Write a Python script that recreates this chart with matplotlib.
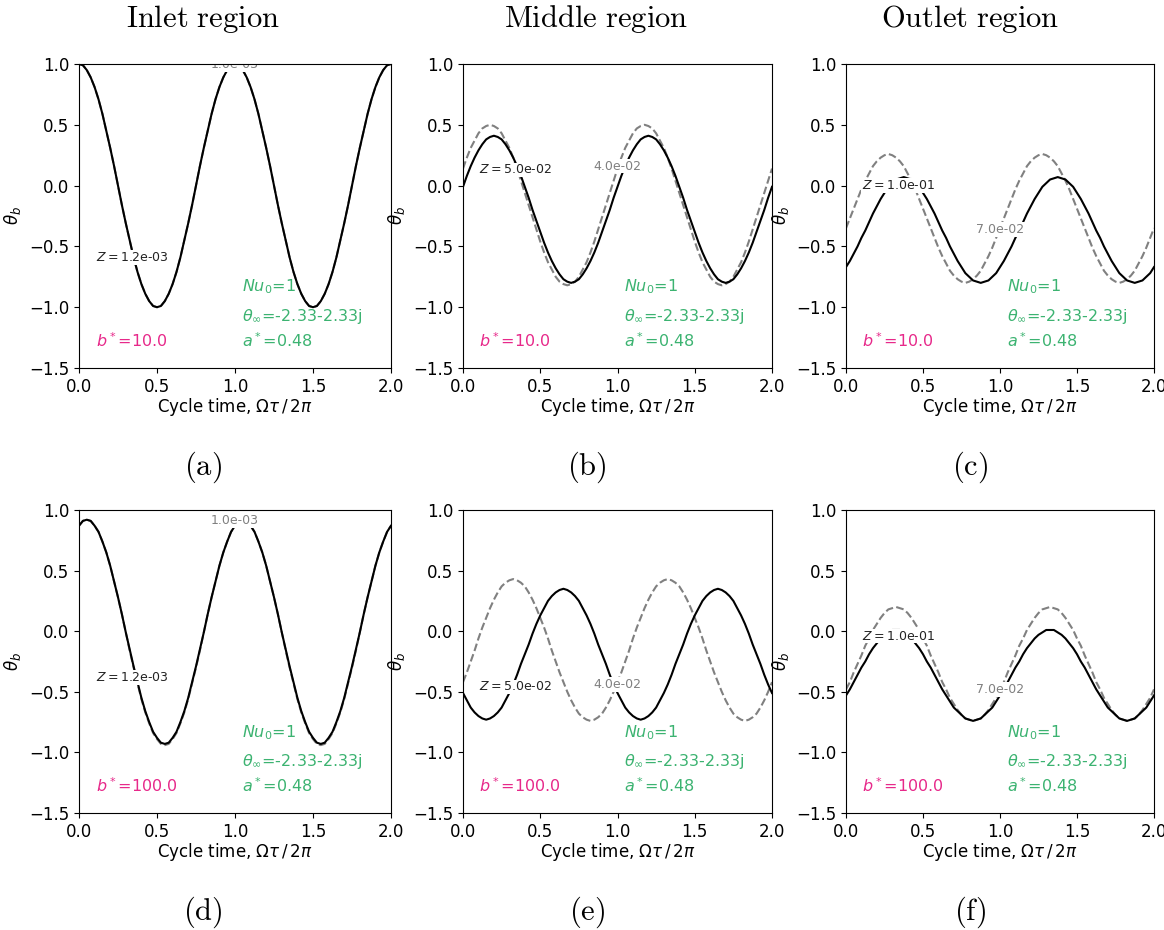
import matplotlib.pyplot as plt
import numpy as np

# one cycle of theta_b sampled every 0.025 of the cycle (second cycle repeats it)
cycle_step = 0.025
n_cycles = 2

regions = ['Inlet region', 'Middle region', 'Outlet region']
panel_tags = ['(a)', '(b)', '(c)', '(d)', '(e)', '(f)']
b_star = [10.0, 100.0]

# Z of the solid line (black label) and of the dashed line (grey label)
z_solid = ['1.2e-03', '5.0e-02', '1.0e-01', '1.2e-03', '5.0e-02', '1.0e-01']
z_dashed = ['1.0e-03', '4.0e-02', '7.0e-02', '1.0e-03', '4.0e-02', '7.0e-02']

theta_solid = [
    # b* = 10
    [1.00, 0.99, 0.95, 0.89, 0.81, 0.71, 0.59, 0.45, 0.31, 0.16,
     0.00, -0.16, -0.31, -0.45, -0.59, -0.71, -0.81, -0.89, -0.95, -0.99,
     -1.00, -0.99, -0.95, -0.89, -0.81, -0.71, -0.59, -0.45, -0.31, -0.16,
     0.00, 0.16, 0.31, 0.45, 0.59, 0.71, 0.81, 0.89, 0.95, 0.99],
    [-0.01, 0.08, 0.16, 0.23, 0.29, 0.34, 0.38, 0.40, 0.41, 0.40,
     0.38, 0.34, 0.29, 0.23, 0.16, 0.08, -0.01, -0.10, -0.20, -0.29,
     -0.38, -0.47, -0.55, -0.62, -0.68, -0.73, -0.77, -0.79, -0.80, -0.79,
     -0.77, -0.73, -0.68, -0.62, -0.55, -0.47, -0.38, -0.29, -0.20, -0.10],
    [-0.67, -0.62, -0.56, -0.50, -0.43, -0.37, -0.30, -0.23, -0.17, -0.11,
     -0.06, -0.01, 0.02, 0.05, 0.06, 0.07, 0.06, 0.05, 0.02, -0.01,
     -0.06, -0.11, -0.17, -0.23, -0.30, -0.37, -0.43, -0.50, -0.56, -0.62,
     -0.67, -0.72, -0.75, -0.78, -0.79, -0.80, -0.79, -0.78, -0.75, -0.72],
    # b* = 100
    [0.87, 0.91, 0.92, 0.91, 0.87, 0.82, 0.74, 0.65, 0.54, 0.41,
     0.28, 0.14, -0.01, -0.15, -0.29, -0.42, -0.55, -0.66, -0.75, -0.83,
     -0.88, -0.92, -0.93, -0.92, -0.88, -0.83, -0.75, -0.66, -0.55, -0.42,
     -0.29, -0.15, -0.01, 0.14, 0.28, 0.41, 0.54, 0.65, 0.74, 0.82],
    [-0.51, -0.57, -0.63, -0.67, -0.70, -0.72, -0.73, -0.72, -0.70, -0.67,
     -0.63, -0.57, -0.51, -0.44, -0.36, -0.27, -0.19, -0.11, -0.02, 0.06,
     0.13, 0.19, 0.25, 0.29, 0.32, 0.34, 0.35, 0.34, 0.32, 0.29,
     0.25, 0.19, 0.13, 0.06, -0.02, -0.11, -0.19, -0.27, -0.36, -0.44],
    [-0.53, -0.48, -0.42, -0.36, -0.30, -0.25, -0.19, -0.14, -0.10, -0.06,
     -0.03, -0.01, 0.01, 0.01, 0.01, -0.01, -0.03, -0.06, -0.10, -0.14,
     -0.19, -0.25, -0.30, -0.36, -0.42, -0.48, -0.53, -0.58, -0.63, -0.66,
     -0.69, -0.72, -0.73, -0.74, -0.73, -0.72, -0.69, -0.66, -0.63, -0.58],
]

theta_dashed = [
    [1.00, 0.99, 0.95, 0.89, 0.81, 0.71, 0.59, 0.45, 0.31, 0.16,
     0.00, -0.16, -0.31, -0.45, -0.59, -0.71, -0.81, -0.89, -0.95, -0.99,
     -1.00, -0.99, -0.95, -0.89, -0.81, -0.71, -0.59, -0.45, -0.31, -0.16,
     0.00, 0.16, 0.31, 0.45, 0.59, 0.71, 0.81, 0.89, 0.95, 0.99],
    [0.14, 0.23, 0.31, 0.37, 0.43, 0.47, 0.49, 0.50, 0.49, 0.47,
     0.43, 0.37, 0.31, 0.23, 0.14, 0.04, -0.06, -0.16, -0.26, -0.36,
     -0.46, -0.55, -0.63, -0.69, -0.75, -0.79, -0.81, -0.82, -0.81, -0.79,
     -0.75, -0.69, -0.63, -0.55, -0.46, -0.36, -0.26, -0.16, -0.06, 0.04],
    [-0.35, -0.27, -0.19, -0.11, -0.03, 0.04, 0.10, 0.16, 0.20, 0.23,
     0.25, 0.26, 0.25, 0.23, 0.20, 0.16, 0.10, 0.04, -0.03, -0.11,
     -0.19, -0.27, -0.35, -0.43, -0.51, -0.58, -0.64, -0.70, -0.74, -0.77,
     -0.79, -0.80, -0.79, -0.77, -0.74, -0.70, -0.64, -0.58, -0.51, -0.43],
    [0.87, 0.91, 0.92, 0.91, 0.87, 0.82, 0.74, 0.65, 0.54, 0.41,
     0.28, 0.14, -0.01, -0.16, -0.30, -0.43, -0.56, -0.67, -0.76, -0.84,
     -0.89, -0.93, -0.94, -0.93, -0.89, -0.84, -0.76, -0.67, -0.56, -0.43,
     -0.30, -0.16, -0.01, 0.14, 0.28, 0.41, 0.54, 0.65, 0.74, 0.82],
    [-0.42, -0.34, -0.25, -0.16, -0.06, 0.03, 0.11, 0.19, 0.26, 0.32,
     0.37, 0.40, 0.42, 0.43, 0.42, 0.40, 0.37, 0.32, 0.26, 0.19,
     0.11, 0.03, -0.06, -0.16, -0.25, -0.34, -0.42, -0.50, -0.57, -0.63,
     -0.68, -0.71, -0.73, -0.74, -0.73, -0.71, -0.68, -0.63, -0.57, -0.50],
    [-0.48, -0.42, -0.34, -0.27, -0.20, -0.12, -0.06, 0.01, 0.06, 0.11,
     0.15, 0.18, 0.19, 0.20, 0.19, 0.18, 0.15, 0.11, 0.06, 0.01,
     -0.06, -0.12, -0.20, -0.27, -0.34, -0.42, -0.48, -0.55, -0.60, -0.65,
     -0.69, -0.72, -0.73, -0.74, -0.73, -0.72, -0.69, -0.65, -0.60, -0.55],
]

# where the inline labels sit (data coords)
solid_label_pos = [(0.34, -0.59), (0.34, 0.13), (0.34, 0.0),
                   (0.34, -0.38), (0.34, -0.46), (0.34, -0.04)]
dashed_label_pos = [(1.0, 0.995), (1.0, 0.16), (1.0, -0.36),
                    (1.0, 0.915), (1.0, -0.44), (1.0, -0.48)]

W, H = 1164, 930
fig = plt.figure(figsize=(W / 100, H / 100), dpi=100)

# axes boxes in pixels: left, right / top, bottom
col_x = [(79, 391), (463, 772), (846, 1154)]
row_y = [(64, 368), (510, 813)]
title_x = [203, 596, 970]
caption_x = [203, 587, 970]
caption_y = [467, 912]

t = np.arange(0, n_cycles + 1e-9, cycle_step)

green = 'mediumseagreen'
pink = '#e7298a'

for i in range(6):
    r, c = divmod(i, 3)
    x0, x1 = col_x[c]
    y0, y1 = row_y[r]
    ax = fig.add_axes([x0 / W, 1 - y1 / H, (x1 - x0) / W, (y1 - y0) / H])

    ys = theta_solid[i]
    yd = theta_dashed[i]
    ys = ys * n_cycles + ys[:1]
    yd = yd * n_cycles + yd[:1]

    ax.plot(t, yd, '--', color='gray', lw=1.5, zorder=1)
    ax.plot(t, ys, '-', color='k', lw=1.5, zorder=1.2)

    lx, ly = solid_label_pos[i]
    ax.text(lx, ly, r'$Z=$' + z_solid[i], fontsize=9, color='#222222',
            ha='center', va='center', zorder=2, clip_on=True,
            bbox=dict(facecolor='white', edgecolor='none', pad=0.5))
    lx, ly = dashed_label_pos[i]
    ax.text(lx, ly, z_dashed[i], fontsize=9, color='gray',
            ha='center', va='center', zorder=2, clip_on=True,
            bbox=dict(facecolor='white', edgecolor='none', pad=0.5))

    ax.text(0.522, 0.266, r'$Nu_0$=1', transform=ax.transAxes,
            fontsize=11.5, color=green, va='center')
    ax.text(0.522, 0.171, r'$\theta_\infty$=-2.33-2.33j', transform=ax.transAxes,
            fontsize=11.5, color=green, va='center')
    ax.text(0.522, 0.089, r'$a^*$=0.48', transform=ax.transAxes,
            fontsize=11.5, color=green, va='center')
    ax.text(0.053, 0.089, r'$b^*$=' + str(b_star[r]), transform=ax.transAxes,
            fontsize=11.5, color=pink, va='center')

    ax.set_xlim(0, 2)
    ax.set_ylim(-1.5, 1.0)
    ax.set_xticks(np.arange(0, 2.01, 0.5))
    ax.set_yticks(np.arange(-1.5, 1.01, 0.5))
    ax.tick_params(labelsize=12)
    ax.set_xlabel(r'Cycle time, $\Omega\tau\,/\,2\pi$', fontsize=12, labelpad=0)
    ax.set_ylabel(r'$\theta_b$', fontsize=12)
    ax.yaxis.set_label_coords(-0.18, 0.5)

    # caption under each panel
    fig.text(caption_x[c] / W, 1 - caption_y[r] / H, '$\\mathrm{' + panel_tags[i] + '}$',
             fontsize=22, math_fontfamily='cm', ha='center', va='center')

# column titles
for c, name in enumerate(regions):
    fig.text(title_x[c] / W, 1 - 27 / H,
             '$\\mathrm{' + name.replace(' ', '\\ ') + '}$',
             fontsize=22, math_fontfamily='cm', ha='center', va='baseline')

fig.savefig('out.png', dpi=100)
